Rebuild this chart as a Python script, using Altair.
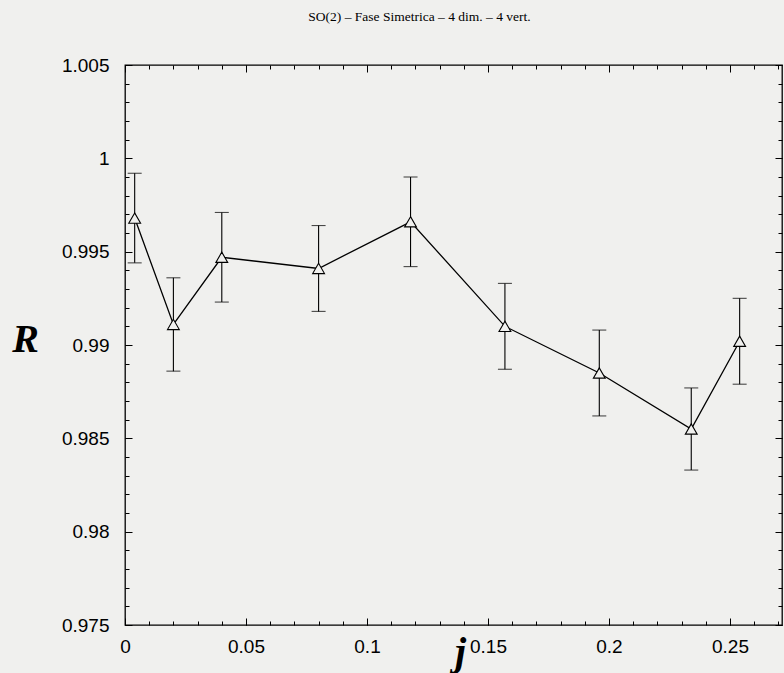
import altair as alt
import pandas as pd

# Measured ratio R versus coupling j, with statistical error bars
j_vals = [0.004, 0.020, 0.040, 0.080, 0.118, 0.157, 0.196, 0.234, 0.254]
r_vals = [0.9968, 0.9911, 0.9947, 0.9941, 0.9966, 0.9910, 0.9885, 0.9855, 0.9902]
r_errs = [0.0024, 0.0025, 0.0024, 0.0023, 0.0024, 0.0023, 0.0023, 0.0022, 0.0023]

# Tick positions (major ticks carry labels, minor ticks are plain marks)
x_major = [0, 0.05, 0.1, 0.15, 0.2, 0.25]
x_minor = [round(0.01 * i, 2) for i in range(28)]
y_major = [0.975, 0.98, 0.985, 0.99, 0.995, 1.0, 1.005]
y_minor = [round(0.975 + 0.001 * i, 3) for i in range(31)]

title_text = "SO(2) – Fase Simetrica – 4 dim. – 4 vert."
paper = "#f0f0ee"

df = pd.DataFrame({"j": j_vals, "R": r_vals, "err": r_errs})
df["lo"] = (df["R"] - df["err"]).round(5)
df["hi"] = (df["R"] + df["err"]).round(5)

W, H = 657, 560
x_scale = alt.Scale(domain=[0, 0.2715], nice=False, zero=False)
y_scale = alt.Scale(domain=[0.975, 1.005], nice=False, zero=False)

MAJOR = {"expr": "-7"}   # ticks drawn inward into the frame
MINOR = {"expr": "-4"}

title_font = dict(titleFont="Liberation Serif", titleFontStyle="italic",
                  titleFontWeight="bold", titleFontSize=40, titleColor="black")

ax_bottom = alt.Axis(orient="bottom", values=x_major, format=".2~f", tickSize=MAJOR,
                     labelPadding=19, labelBaseline="top", labelAlign="center",
                     labelFlush=False, labelOverlap=False,
                     title="j", titleX=335, titleY=39, titleAlign="center",
                     titleBaseline="alphabetic", **title_font)
ax_bottom_minor = alt.Axis(orient="bottom", values=x_minor, tickSize=MINOR,
                           labels=False, title=None)
ax_top = alt.Axis(orient="top", values=x_major, tickSize=MAJOR, labels=False, title=None)
ax_top_minor = alt.Axis(orient="top", values=x_minor, tickSize=MINOR, labels=False, title=None)

ax_left = alt.Axis(orient="left", values=y_major, format=".3~f", tickSize=MAJOR,
                   labelPadding=23, labelBaseline="middle", labelFlush=False,
                   labelOverlap=False,
                   title="R", titleAngle=0, titleX=-100, titleY=286,
                   titleAlign="center", titleBaseline="alphabetic", **title_font)
ax_left_minor = alt.Axis(orient="left", values=y_minor, tickSize=MINOR,
                         labels=False, title=None)
ax_right = alt.Axis(orient="right", values=y_major, tickSize=MAJOR, labels=False, title=None)
ax_right_minor = alt.Axis(orient="right", values=y_minor, tickSize=MINOR,
                          labels=False, title=None)

base = alt.Chart(df)


def frame_axes(xa, ya):
    return base.mark_point(opacity=0).encode(
        x=alt.X("j:Q", scale=x_scale, axis=xa),
        y=alt.Y("R:Q", scale=y_scale, axis=ya),
    )


X = alt.X("j:Q", scale=x_scale, axis=None)

bars = base.mark_rule(color="black", strokeWidth=1.1).encode(
    x=X, y=alt.Y("lo:Q", scale=y_scale, axis=None), y2="hi:Q")
cap_lo = base.mark_tick(orient="horizontal", size=14, thickness=1.1, color="black").encode(
    x=X, y=alt.Y("lo:Q", scale=y_scale, axis=None))
cap_hi = base.mark_tick(orient="horizontal", size=14, thickness=1.1, color="black").encode(
    x=X, y=alt.Y("hi:Q", scale=y_scale, axis=None))
line = base.mark_line(color="black", strokeWidth=1.3).encode(
    x=X, y=alt.Y("R:Q", scale=y_scale, axis=None))
points = base.mark_point(shape="triangle-up", size=140, filled=True, fill=paper,
                         stroke="black", strokeWidth=1.1, opacity=1).encode(
    x=X, y=alt.Y("R:Q", scale=y_scale, axis=None))

chart = alt.layer(
    frame_axes(ax_bottom, ax_left),
    frame_axes(ax_bottom_minor, ax_left_minor),
    frame_axes(ax_top, ax_right),
    frame_axes(ax_top_minor, ax_right_minor),
    bars, cap_lo, cap_hi, line, points,
).resolve_axis(x="independent", y="independent").properties(
    width=W, height=H,
    autosize=alt.AutoSizeParams(type="none"),
    padding={"left": 125, "top": 65, "right": 2, "bottom": 48},
    background=paper,
    title=alt.TitleParams(text=title_text, font="Liberation Serif", fontSize=13.5,
                          fontWeight="normal", color="black", anchor="middle",
                          dx=-34, offset=22, baseline="alphabetic"),
).configure_view(stroke="black", strokeWidth=1.3).configure_axis(
    labelFont="Liberation Sans", labelFontSize=19, labelColor="black",
    tickColor="black", tickWidth=1, domain=False, grid=False,
)

chart.save("out.html", embed_options={"renderer": "svg", "actions": False})
